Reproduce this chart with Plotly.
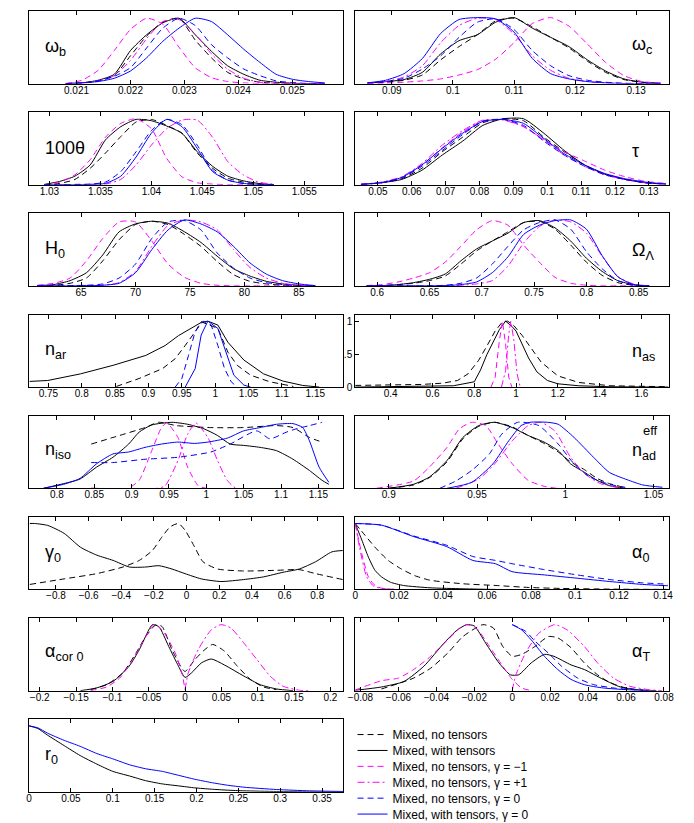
import plotly.graph_objects as go

W, H = 694, 823
FONT = "Liberation Sans, Arial, Helvetica, sans-serif"

# ---------------- data (normalised 1-D posteriors) ----------------
# Series keys: KD = Mixed, no tensors; KS = Mixed, with tensors;
# MD = Mixed, no tensors, gamma=-1; MDD = Mixed, no tensors, gamma=+1;
# BD = Mixed, no tensors, gamma=0; BS = Mixed, with tensors, gamma=0

# omega_b
WB_X = [0.0208, 0.0211, 0.0214, 0.0217, 0.0220, 0.0223, 0.0226, 0.0229, 0.0232,
        0.0235, 0.0238, 0.0241, 0.0244, 0.0247, 0.0250, 0.0253, 0.0256]
WB_KD = [0, 0.01, 0.04, 0.12, 0.42, 0.72, 0.93, 0.99, 0.66, 0.39, 0.17, 0.07, 0.02, 0.005, 0, 0, 0]
WB_KS = [0, 0.01, 0.05, 0.14, 0.5, 0.74, 0.92, 0.99, 0.74, 0.49, 0.27, 0.14, 0.05, 0.02, 0.005, 0, 0]
WB_MD = [0, 0.05, 0.2, 0.5, 0.82, 0.99, 0.9, 0.55, 0.24, 0.09, 0.03, 0.01, 0, 0, 0, 0, 0]
WB_MDD = [0, 0.01, 0.04, 0.12, 0.35, 0.68, 0.94, 0.97, 0.75, 0.45, 0.22, 0.08, 0.02, 0, 0, 0, 0]
WB_BD = [0, 0.005, 0.04, 0.11, 0.24, 0.54, 0.84, 0.99, 0.88, 0.59, 0.39, 0.22, 0.12, 0.04, 0.015, 0, 0]
WB_BS = [0, 0.01, 0.03, 0.08, 0.19, 0.39, 0.64, 0.84, 0.99, 0.94, 0.74, 0.52, 0.32, 0.14, 0.065, 0.03, 0.01]
WB_TICKS = [0.021, 0.022, 0.023, 0.024, 0.025]

# omega_c
WC_X = [0.086, 0.089, 0.092, 0.095, 0.098, 0.101, 0.104, 0.107, 0.110, 0.113, 0.116,
        0.119, 0.122, 0.125, 0.128, 0.131, 0.134]
WC_KD = [0.005, 0.02, 0.05, 0.13, 0.36, 0.56, 0.74, 0.95, 0.99, 0.86, 0.7, 0.54, 0.34, 0.17, 0.06, 0.02, 0]
WC_KS = [0.005, 0.03, 0.06, 0.17, 0.45, 0.65, 0.74, 0.93, 1.0, 0.84, 0.7, 0.56, 0.36, 0.19, 0.07, 0.02, 0.005]
WC_MD = [0, 0.005, 0.02, 0.04, 0.07, 0.13, 0.21, 0.37, 0.62, 0.91, 1.0, 0.87, 0.6, 0.32, 0.12, 0.03, 0.01]
WC_MDD = [0.005, 0.03, 0.1, 0.27, 0.62, 0.88, 0.99, 0.97, 0.75, 0.42, 0.2, 0.08, 0.03, 0.01, 0, 0, 0]
WC_BD = [0.005, 0.03, 0.08, 0.22, 0.42, 0.7, 0.93, 0.98, 0.82, 0.5, 0.27, 0.12, 0.05, 0.02, 0.005, 0, 0]
WC_BS = [0.01, 0.05, 0.15, 0.38, 0.76, 0.97, 1.0, 0.98, 0.78, 0.38, 0.15, 0.07, 0.03, 0.01, 0, 0, 0]
WC_TICKS = [0.09, 0.1, 0.11, 0.12, 0.13]

# 100 theta
TH_X = [1.0295, 1.031, 1.0325, 1.034, 1.0355, 1.037, 1.0385, 1.04, 1.0415, 1.043,
        1.0445, 1.046, 1.0475, 1.049, 1.0505, 1.052]
TH_KD = [0, 0.02, 0.08, 0.25, 0.48, 0.73, 0.95, 0.99, 0.9, 0.78, 0.48, 0.25, 0.1, 0.04, 0.01, 0]
TH_KS = [0.005, 0.05, 0.13, 0.3, 0.68, 0.88, 0.99, 0.97, 0.89, 0.78, 0.5, 0.28, 0.13, 0.06, 0.02, 0]
TH_MD = [0, 0.04, 0.15, 0.38, 0.72, 0.93, 1.0, 0.85, 0.4, 0.12, 0.03, 0.01, 0, 0, 0, 0]
TH_MDD = [0, 0, 0, 0.005, 0.01, 0.08, 0.3, 0.6, 0.85, 0.98, 0.98, 0.72, 0.35, 0.15, 0.04, 0.01]
TH_BD = [0, 0, 0.005, 0.01, 0.04, 0.2, 0.5, 0.82, 0.99, 0.91, 0.6, 0.22, 0.07, 0.02, 0.005, 0]
TH_BS = [0, 0, 0, 0.005, 0.02, 0.13, 0.42, 0.78, 0.99, 0.88, 0.55, 0.2, 0.07, 0.02, 0.005, 0]
TH_TICKS = [1.03, 1.035, 1.04, 1.045, 1.05, 1.055]

# tau
TAU_X = [0.045, 0.051, 0.057, 0.063, 0.069, 0.075, 0.081, 0.087, 0.093, 0.099, 0.105,
         0.111, 0.117, 0.123, 0.129, 0.135]
TAU_KD = [0.005, 0.03, 0.09, 0.25, 0.5, 0.72, 0.94, 1.0, 0.97, 0.72, 0.5, 0.3, 0.16, 0.08, 0.03, 0.01]
TAU_KS = [0.005, 0.03, 0.08, 0.22, 0.45, 0.66, 0.9, 1.0, 1.0, 0.78, 0.52, 0.3, 0.16, 0.08, 0.03, 0.01]
TAU_MD = [0.005, 0.03, 0.11, 0.3, 0.56, 0.8, 0.97, 0.99, 0.88, 0.68, 0.5, 0.36, 0.22, 0.12, 0.05, 0.02]
TAU_MDD = [0.005, 0.04, 0.12, 0.32, 0.6, 0.82, 0.98, 0.98, 0.88, 0.68, 0.45, 0.28, 0.15, 0.08, 0.03, 0.01]
TAU_BD = [0.005, 0.03, 0.1, 0.28, 0.52, 0.76, 0.96, 0.99, 0.9, 0.66, 0.45, 0.28, 0.15, 0.08, 0.03, 0.01]
TAU_BS = [0.005, 0.03, 0.11, 0.3, 0.55, 0.78, 0.96, 0.99, 0.93, 0.7, 0.47, 0.3, 0.17, 0.09, 0.04, 0.01]
TAU_TICKS = [0.05, 0.06, 0.07, 0.08, 0.09, 0.1, 0.11, 0.12, 0.13]

# H0
H0_X = [61, 62.5, 64, 65.5, 67, 68.5, 70, 71.5, 73, 74.5, 76, 77.5, 79, 80.5, 82, 83.5, 85, 86.5]
H0_KD = [0, 0.01, 0.04, 0.12, 0.38, 0.7, 0.93, 0.98, 0.93, 0.78, 0.6, 0.37, 0.17, 0.07, 0.03, 0.01, 0, 0]
H0_KS = [0.005, 0.02, 0.08, 0.2, 0.47, 0.82, 0.94, 0.98, 0.95, 0.82, 0.66, 0.45, 0.26, 0.15, 0.07, 0.03, 0.01, 0]
H0_MD = [0.01, 0.04, 0.12, 0.38, 0.72, 0.97, 0.97, 0.68, 0.33, 0.13, 0.04, 0.01, 0, 0, 0, 0, 0, 0]
H0_MDD = [0, 0, 0, 0, 0.01, 0.05, 0.22, 0.6, 0.92, 1.0, 0.97, 0.85, 0.55, 0.28, 0.12, 0.04, 0.01, 0]
H0_BD = [0, 0, 0.005, 0.01, 0.03, 0.12, 0.33, 0.72, 0.97, 0.99, 0.85, 0.5, 0.27, 0.12, 0.05, 0.02, 0, 0]
H0_BS = [0, 0, 0, 0.005, 0.01, 0.04, 0.2, 0.55, 0.85, 1.0, 0.94, 0.82, 0.6, 0.35, 0.18, 0.08, 0.03, 0.005]
H0_TICKS = [65, 70, 75, 80, 85]

# Omega_Lambda
OL_X = [0.59, 0.605, 0.62, 0.635, 0.65, 0.665, 0.68, 0.695, 0.71, 0.725, 0.74, 0.755,
        0.77, 0.785, 0.8, 0.815, 0.83, 0.845, 0.86]
OL_KD = [0, 0.005, 0.02, 0.04, 0.08, 0.15, 0.33, 0.53, 0.68, 0.82, 0.96, 0.98, 0.86, 0.62, 0.36, 0.16, 0.05, 0.01, 0]
OL_KS = [0, 0.005, 0.02, 0.05, 0.1, 0.18, 0.38, 0.56, 0.68, 0.8, 0.96, 0.99, 0.88, 0.68, 0.42, 0.22, 0.08, 0.02, 0]
OL_MD = [0.005, 0.02, 0.06, 0.12, 0.2, 0.36, 0.6, 0.85, 0.99, 0.92, 0.62, 0.36, 0.13, 0.04, 0.01, 0, 0, 0, 0]
OL_MDD = [0, 0, 0, 0, 0, 0, 0.01, 0.03, 0.08, 0.3, 0.65, 0.9, 1.0, 0.97, 0.8, 0.45, 0.14, 0.03, 0]
OL_BD = [0, 0, 0, 0, 0, 0.01, 0.04, 0.12, 0.33, 0.6, 0.85, 0.96, 1.0, 0.86, 0.52, 0.26, 0.08, 0.01, 0]
OL_BS = [0, 0, 0, 0, 0, 0.005, 0.02, 0.06, 0.2, 0.44, 0.78, 0.92, 0.99, 1.0, 0.86, 0.46, 0.14, 0.02, 0]
OL_TICKS = [0.6, 0.65, 0.7, 0.75, 0.8, 0.85]

# n_ar
NAR_KD_X = [0.852, 0.886, 0.921, 0.94, 0.955, 0.97, 0.979, 1.004, 1.019, 1.033, 1.053, 1.082, 1.117]
NAR_KD_Y = [0.01, 0.13, 0.28, 0.43, 0.63, 0.84, 0.99, 0.89, 0.53, 0.33, 0.18, 0.08, 0.01]
NAR_KS_X = [0.722, 0.749, 0.798, 0.847, 0.896, 0.925, 0.945, 0.965, 0.979, 0.989, 1.004,
            1.019, 1.043, 1.0725, 1.102, 1.131, 1.156]
NAR_KS_Y = [0.086, 0.1, 0.2, 0.33, 0.48, 0.63, 0.78, 0.89, 0.98, 1.0, 0.94, 0.68, 0.41, 0.2, 0.09, 0.025, 0]
NAR_BD_X = [0.94, 0.95, 0.96, 0.97, 0.982, 0.994, 1.004, 1.014, 1.024, 1.033]
NAR_BD_Y = [0, 0.13, 0.48, 0.84, 1.0, 0.94, 0.63, 0.28, 0.08, 0]
NAR_BS_X = [0.955, 0.97, 0.979, 0.989, 1.004, 1.014, 1.028, 1.043, 1.053]
NAR_BS_Y = [0, 0.28, 0.79, 1.0, 0.89, 0.58, 0.18, 0.03, 0]
NAR_TICKS = [0.75, 0.8, 0.85, 0.9, 0.95, 1, 1.05, 1.1, 1.15]

# n_as
NAS_KD_X = [0.23, 0.4, 0.55, 0.65, 0.72, 0.77, 0.82, 0.86, 0.9, 0.935, 0.96, 0.99, 1.03,
            1.07, 1.12, 1.2, 1.3, 1.45, 1.73]
NAS_KD_Y = [0.025, 0.03, 0.04, 0.06, 0.1, 0.2, 0.4, 0.62, 0.85, 0.99, 1.0, 0.93, 0.78,
            0.6, 0.38, 0.17, 0.07, 0.02, 0.005]
NAS_KS_X = [0.23, 0.5, 0.7, 0.8, 0.83, 0.86, 0.89, 0.92, 0.95, 0.98, 1.0, 1.03, 1.06,
            1.1, 1.15, 1.2, 1.3, 1.45, 1.73]
NAS_KS_Y = [0, 0.005, 0.02, 0.08, 0.26, 0.49, 0.69, 0.87, 1.0, 0.92, 0.85, 0.64, 0.44,
            0.23, 0.1, 0.05, 0.02, 0.005, 0]
NAS_MD_X = [0.88, 0.9, 0.92, 0.935, 0.95, 0.965, 0.98]
NAS_MD_Y = [0, 0.15, 0.7, 1.0, 0.65, 0.15, 0]
NAS_MDD_X = [0.93, 0.95, 0.965, 0.975, 0.99, 1.005, 1.02]
NAS_MDD_Y = [0, 0.25, 0.8, 1.0, 0.7, 0.2, 0]
NAS_TICKS = [0.4, 0.6, 0.8, 1, 1.2, 1.4, 1.6]
NAS_YTICKS = [0, 0.5, 1]
NAS_YTEXT = ["0", ".5", "1"]

# n_iso
NISO_KD_X = [0.846, 0.875, 0.918, 0.936, 0.96, 1.006, 1.05, 1.094, 1.116, 1.138, 1.155]
NISO_KD_Y = [0.67, 0.77, 0.92, 1.0, 0.95, 0.92, 0.92, 0.95, 0.92, 0.77, 0.7]
NISO_KS_X = [0.782, 0.809, 0.831, 0.853, 0.875, 0.896, 0.91, 0.927, 0.954, 0.975, 0.997,
             1.015, 1.032, 1.05, 1.072, 1.094, 1.116, 1.138, 1.155, 1.164]
NISO_KS_Y = [0, 0.07, 0.14, 0.32, 0.47, 0.67, 0.85, 0.96, 1.0, 0.97, 0.9, 0.8, 0.67,
             0.65, 0.62, 0.57, 0.44, 0.27, 0.12, 0.06]
NISO_MD_X = [0.846, 0.895, 0.91, 0.927, 0.94, 0.947, 0.962, 0.975, 0.989, 1.0, 1.155]
NISO_MD_Y = [0, 0, 0.12, 0.57, 0.92, 0.99, 0.77, 0.32, 0.04, 0, 0]
NISO_MDD_X = [0.846, 0.935, 0.945, 0.962, 0.975, 0.986, 1.002, 1.015, 1.028, 1.04, 1.155]
NISO_MDD_Y = [0, 0, 0.04, 0.42, 0.82, 0.99, 0.77, 0.42, 0.12, 0, 0]
NISO_BD_X = [0.846, 0.875, 0.918, 0.962, 1.006, 1.032, 1.0675, 1.085, 1.107, 1.12, 1.138, 1.155]
NISO_BD_Y = [0.39, 0.39, 0.44, 0.47, 0.55, 0.67, 0.87, 0.75, 0.85, 0.9, 0.95, 1.0]
NISO_BS_X = [0.782, 0.809, 0.831, 0.853, 0.875, 0.896, 0.918, 0.94, 0.962, 0.984, 1.002,
             1.028, 1.05, 1.072, 1.094, 1.116, 1.129, 1.138, 1.151, 1.164]
NISO_BS_Y = [0, 0.06, 0.15, 0.37, 0.52, 0.55, 0.62, 0.67, 0.7, 0.68, 0.7, 0.76, 0.87,
             0.92, 0.97, 0.98, 0.92, 0.72, 0.32, 0.09]
NISO_TICKS = [0.8, 0.85, 0.9, 0.95, 1, 1.05, 1.1, 1.15]

# n_ad^eff
NAD_K_X = [0.9, 0.914, 0.923, 0.933, 0.942, 0.951, 0.96, 0.97, 0.979, 0.988, 0.996,
           1.003, 1.011, 1.018, 1.025, 1.034]
NAD_KD_Y = [0, 0.05, 0.16, 0.4, 0.75, 0.94, 1.0, 0.93, 0.8, 0.68, 0.55, 0.4, 0.28, 0.15, 0.07, 0.01]
NAD_KS_Y = [0, 0.06, 0.17, 0.42, 0.77, 0.95, 1.0, 0.92, 0.8, 0.7, 0.57, 0.37, 0.24, 0.12, 0.04, 0]
NAD_MD_X = [0.893, 0.914, 0.923, 0.933, 0.94, 0.947, 0.955, 0.962, 0.97, 0.979, 0.988, 0.995]
NAD_MD_Y = [0, 0.11, 0.32, 0.62, 0.9, 1.0, 0.95, 0.67, 0.37, 0.12, 0.03, 0]
NAD_MDD_X = [0.938, 0.951, 0.96, 0.97, 0.979, 0.986, 0.994, 1.003, 1.011, 1.02, 1.03]
NAD_MDD_Y = [0, 0.14, 0.37, 0.72, 0.95, 1.0, 0.87, 0.47, 0.22, 0.07, 0.01]
NAD_BD_X = [0.929, 0.938, 0.947, 0.957, 0.964, 0.973, 0.985, 0.996, 1.005, 1.014, 1.025, 1.034]
NAD_BD_Y = [0, 0.11, 0.27, 0.52, 0.82, 1.0, 0.95, 0.67, 0.37, 0.17, 0.06, 0.015]
NAD_BS_X = [0.933, 0.947, 0.959, 0.968, 0.975, 0.98, 0.99, 0.996, 1.005, 1.016, 1.025,
            1.035, 1.044, 1.055]
NAD_BS_Y = [0, 0.09, 0.37, 0.72, 0.95, 1.0, 1.0, 0.97, 0.77, 0.47, 0.24, 0.13, 0.05, 0.015]
NAD_TICKS = [0.9, 0.95, 1, 1.05]

# gamma_0
G0_KD_X = [-0.96, -0.75, -0.55, -0.39, -0.29, -0.21, -0.15, -0.1, -0.05, -0.01, 0.05,
           0.1, 0.19, 0.35, 0.55, 0.69, 0.79, 0.956]
G0_KD_Y = [0.076, 0.16, 0.24, 0.34, 0.44, 0.59, 0.8, 0.95, 1.0, 0.9, 0.64, 0.42, 0.31,
           0.28, 0.29, 0.3, 0.24, 0.15]
G0_KS_X = [-0.96, -0.93, -0.85, -0.75, -0.65, -0.55, -0.45, -0.35, -0.25, -0.17, -0.09,
           -0.01, 0.09, 0.21, 0.35, 0.47, 0.59, 0.69, 0.79, 0.89, 0.956]
G0_KS_Y = [1.0, 1.0, 0.97, 0.85, 0.64, 0.52, 0.44, 0.34, 0.34, 0.36, 0.31, 0.24, 0.16,
           0.12, 0.15, 0.19, 0.26, 0.31, 0.42, 0.57, 0.59]
G0_TICKS = [-0.8, -0.6, -0.4, -0.2, 0, 0.2, 0.4, 0.6, 0.8]

# alpha_0
A0_B_X = [0, 0.0119, 0.0267, 0.0416, 0.0535, 0.0638, 0.0713, 0.0861, 0.101, 0.1158, 0.1307, 0.1422]
A0_BS_Y = [1.0, 0.975, 0.8, 0.65, 0.44, 0.39, 0.27, 0.22, 0.17, 0.12, 0.076, 0.056]
A0_BD_Y = [1.0, 0.975, 0.81, 0.67, 0.5, 0.44, 0.39, 0.3, 0.22, 0.15, 0.1, 0.08]
A0_KD_X = [0, 0.0045, 0.009, 0.015, 0.021, 0.027, 0.034, 0.049, 0.064, 0.079, 0.094, 0.116, 0.1422]
A0_KD_Y = [1.0, 0.82, 0.64, 0.44, 0.31, 0.21, 0.14, 0.086, 0.06, 0.03, 0.015, 0.005, 0]
A0_KS_X = [0, 0.003, 0.006, 0.009, 0.012, 0.016, 0.022, 0.034, 0.049, 0.064, 0.1422]
A0_KS_Y = [1.0, 0.75, 0.49, 0.29, 0.19, 0.11, 0.06, 0.025, 0.01, 0, 0]
A0_MD_X = [0, 0.003, 0.006, 0.009, 0.012, 0.019, 0.03]
A0_MD_Y = [1.0, 0.54, 0.19, 0.06, 0.02, 0, 0]
A0_MDD_X = [0, 0.0022, 0.0052, 0.0082, 0.012, 0.019, 0.03]
A0_MDD_Y = [1.0, 0.6, 0.19, 0.055, 0.015, 0, 0]
A0_TICKS = [0, 0.02, 0.04, 0.06, 0.08, 0.1, 0.12, 0.14]

# alpha_cor0
AC_KD_X = [-0.13, -0.108, -0.0855, -0.0675, -0.054, -0.04, -0.0315, -0.018, -0.0045, 0,
           0.0135, 0.027, 0.038, 0.054, 0.072, 0.09, 0.108, 0.126]
AC_KD_Y = [0.015, 0.09, 0.27, 0.57, 0.82, 1.0, 0.97, 0.62, 0.34, 0.29, 0.47, 0.62, 0.7,
           0.6, 0.37, 0.17, 0.055, 0.015]
AC_KS_X = [-0.144, -0.122, -0.099, -0.077, -0.063, -0.05, -0.045, -0.036, -0.0225, -0.009,
           0, 0.009, 0.0225, 0.036, 0.054, 0.081, 0.1035, 0.126, 0.1485]
AC_KS_Y = [0, 0.04, 0.14, 0.37, 0.62, 0.92, 1.0, 0.97, 0.67, 0.37, 0.2, 0.27, 0.42, 0.48,
           0.39, 0.22, 0.09, 0.025, 0]
AC_MD_X = [-0.13, -0.108, -0.09, -0.072, -0.054, -0.043, -0.0315, -0.0135, -0.0045, 0]
AC_MD_Y = [0, 0.055, 0.19, 0.47, 0.82, 1.0, 0.92, 0.57, 0.27, 0.015]
AC_MDD_X = [0, 0.0045, 0.018, 0.036, 0.0495, 0.063, 0.081, 0.099, 0.117, 0.135, 0.1575, 0.17]
AC_MDD_Y = [0.015, 0.27, 0.62, 0.92, 1.0, 0.95, 0.72, 0.47, 0.22, 0.066, 0.005, 0]
AC_TICKS = [-0.2, -0.15, -0.1, -0.05, 0, 0.05, 0.1, 0.15, 0.2]

# alpha_T
AT_KD_X = [-0.069, -0.052, -0.043, -0.034, -0.026, -0.0155, -0.01, -0.005, 0, 0.005, 0.012,
           0.019, 0.024, 0.031, 0.038, 0.045, 0.0517, 0.06, 0.069]
AT_KD_Y = [0.025, 0.19, 0.34, 0.57, 0.82, 1.0, 0.95, 0.67, 0.52, 0.55, 0.67, 0.82, 0.8,
           0.65, 0.42, 0.24, 0.12, 0.04, 0.005]
AT_KS_X = [-0.0828, -0.069, -0.057, -0.0466, -0.036, -0.029, -0.024, -0.02, -0.014, -0.007,
           -0.001, 0.0034, 0.01, 0.017, 0.022, 0.031, 0.038, 0.048, 0.057, 0.0655, 0.076]
AT_KS_Y = [0.005, 0.055, 0.14, 0.37, 0.72, 0.92, 1.0, 0.98, 0.72, 0.42, 0.24, 0.24, 0.42,
           0.55, 0.52, 0.39, 0.32, 0.17, 0.055, 0.015, 0]
AT_MD_X = [-0.0828, -0.069, -0.06, -0.052, -0.043, -0.034, -0.0276, -0.024, -0.019, -0.012,
           -0.005, 0, 0.005, 0.01]
AT_MD_Y = [0.01, 0.15, 0.19, 0.32, 0.52, 0.77, 0.95, 1.0, 0.95, 0.67, 0.37, 0.17, 0.04, 0]
AT_MDD_X = [0, 0.0017, 0.007, 0.014, 0.0224, 0.029, 0.038, 0.045, 0.0534, 0.062, 0.072, 0.079]
AT_MDD_Y = [0, 0.22, 0.57, 0.87, 1.0, 0.92, 0.67, 0.42, 0.19, 0.066, 0.015, 0]
AT_BD_X = [0, 0.007, 0.012, 0.019, 0.026, 0.0345, 0.043, 0.055, 0.069]
AT_BD_Y = [1.0, 0.9, 0.75, 0.57, 0.37, 0.19, 0.09, 0.035, 0.005]
AT_BS_X = [0, 0.005, 0.01, 0.017, 0.024, 0.031, 0.038, 0.048, 0.06, 0.072]
AT_BS_Y = [1.0, 0.92, 0.77, 0.52, 0.32, 0.17, 0.09, 0.04, 0.015, 0]
AT_TICKS = [-0.08, -0.06, -0.04, -0.02, 0, 0.02, 0.04, 0.06, 0.08]

# r_0
R0_X = [0, 0.0105, 0.022, 0.042, 0.061, 0.081, 0.1, 0.12, 0.139, 0.159, 0.1785, 0.198,
        0.2176, 0.237, 0.2566, 0.2957, 0.3348, 0.375]
R0_KS = [1.0, 0.96, 0.86, 0.7, 0.55, 0.42, 0.31, 0.24, 0.17, 0.12, 0.09, 0.06, 0.04,
         0.025, 0.015, 0.005, 0, 0]
R0_BS = [1.0, 0.97, 0.89, 0.78, 0.69, 0.58, 0.5, 0.41, 0.35, 0.31, 0.25, 0.19, 0.14,
         0.1, 0.07, 0.035, 0.015, 0.005]
R0_TICKS = [0, 0.05, 0.1, 0.15, 0.2, 0.25, 0.3, 0.35]

# ---------------- styles ----------------
DASH = "6px,4px"
DASHDOT = "7px,3px,2px,3px"
STYLE = {
    "KD": dict(color="#000000", dash=DASH, name="Mixed, no tensors"),
    "KS": dict(color="#000000", dash="solid", name="Mixed, with tensors"),
    "MD": dict(color="#ff00ff", dash=DASH, name="Mixed, no tensors, \u03b3 = \u22121"),
    "MDD": dict(color="#ff00ff", dash=DASHDOT, name="Mixed, no tensors, \u03b3 = +1"),
    "BD": dict(color="#0000ff", dash=DASH, name="Mixed, no tensors, \u03b3 = 0"),
    "BS": dict(color="#0000ff", dash="solid", name="Mixed, with tensors, \u03b3 = 0"),
}
LEGEND_ORDER = ["KD", "KS", "MD", "MDD", "BD", "BS"]

PANELS = [
    dict(row=0, col=0, label="\u03c9<sub>b</sub>", ly=0.5, xr=[0.02012, 0.02594], ticks=WB_TICKS,
         curves=[("KD", WB_X, WB_KD), ("KS", WB_X, WB_KS), ("MD", WB_X, WB_MD),
                 ("MDD", WB_X, WB_MDD), ("BD", WB_X, WB_BD), ("BS", WB_X, WB_BS)]),
    dict(row=0, col=1, label="\u03c9<sub>c</sub>", ly=0.52, xr=[0.084, 0.1353], ticks=WC_TICKS,
         curves=[("KD", WC_X, WC_KD), ("KS", WC_X, WC_KS), ("MD", WC_X, WC_MD),
                 ("MDD", WC_X, WC_MDD), ("BD", WC_X, WC_BD), ("BS", WC_X, WC_BS)]),
    dict(row=1, col=0, label="100\u03b8", ly=0.5, xr=[1.028, 1.0588], ticks=TH_TICKS,
         curves=[("KD", TH_X, TH_KD), ("KS", TH_X, TH_KS), ("MD", TH_X, TH_MD),
                 ("MDD", TH_X, TH_MDD), ("BD", TH_X, TH_BD), ("BS", TH_X, TH_BS)]),
    dict(row=1, col=1, label="\u03c4", ly=0.47, xr=[0.0433, 0.1358], ticks=TAU_TICKS,
         curves=[("KD", TAU_X, TAU_KD), ("KS", TAU_X, TAU_KS), ("MD", TAU_X, TAU_MD),
                 ("MDD", TAU_X, TAU_MDD), ("BD", TAU_X, TAU_BD), ("BS", TAU_X, TAU_BS)]),
    dict(row=2, col=0, label="H<sub>0</sub>", ly=0.5, xr=[60.23, 89.05], ticks=H0_TICKS,
         curves=[("KD", H0_X, H0_KD), ("KS", H0_X, H0_KS), ("MD", H0_X, H0_MD),
                 ("MDD", H0_X, H0_MDD), ("BD", H0_X, H0_BD), ("BS", H0_X, H0_BS)]),
    dict(row=2, col=1, label="\u03a9<sub>\u039b</sub>", ly=0.47, xr=[0.579, 0.8785], ticks=OL_TICKS,
         curves=[("KD", OL_X, OL_KD), ("KS", OL_X, OL_KS), ("MD", OL_X, OL_MD),
                 ("MDD", OL_X, OL_MDD), ("BD", OL_X, OL_BD), ("BS", OL_X, OL_BS)]),
    dict(row=3, col=0, label="n<sub>ar</sub>", ly=0.5, xr=[0.721, 1.1916], ticks=NAR_TICKS, linear=True,
         curves=[("KD", NAR_KD_X, NAR_KD_Y), ("KS", NAR_KS_X, NAR_KS_Y),
                 ("BD", NAR_BD_X, NAR_BD_Y), ("BS", NAR_BS_X, NAR_BS_Y)]),
    dict(row=3, col=1, label="n<sub>as</sub>", ly=0.47, xr=[0.23, 1.73], ticks=NAS_TICKS, linear=True,
         yticks=(NAS_YTICKS, NAS_YTEXT),
         curves=[("KD", NAS_KD_X, NAS_KD_Y), ("KS", NAS_KS_X, NAS_KS_Y),
                 ("MD", NAS_MD_X, NAS_MD_Y), ("MDD", NAS_MDD_X, NAS_MDD_Y)]),
    dict(row=4, col=0, label="n<sub>iso</sub>", ly=0.52, xr=[0.7627, 1.183], ticks=NISO_TICKS,
         curves=[("KD", NISO_KD_X, NISO_KD_Y), ("KS", NISO_KS_X, NISO_KS_Y),
                 ("MD", NISO_MD_X, NISO_MD_Y), ("MDD", NISO_MDD_X, NISO_MDD_Y),
                 ("BD", NISO_BD_X, NISO_BD_Y), ("BS", NISO_BS_X, NISO_BS_Y)]),
    dict(row=4, col=1, label="n<sub>ad</sub>", ly=0.5, sup="eff", xr=[0.881, 1.0585], ticks=NAD_TICKS,
         curves=[("KD", NAD_K_X, NAD_KD_Y), ("KS", NAD_K_X, NAD_KS_Y),
                 ("MD", NAD_MD_X, NAD_MD_Y), ("MDD", NAD_MDD_X, NAD_MDD_Y),
                 ("BD", NAD_BD_X, NAD_BD_Y), ("BS", NAD_BS_X, NAD_BS_Y)]),
    dict(row=5, col=0, label="\u03b3<sub>0</sub>", ly=0.5, xr=[-0.965, 0.958], ticks=G0_TICKS,
         curves=[("KD", G0_KD_X, G0_KD_Y), ("KS", G0_KS_X, G0_KS_Y)]),
    dict(row=5, col=1, label="\u03b1<sub>0</sub>", ly=0.5, xr=[0, 0.1425], ticks=A0_TICKS,
         curves=[("KD", A0_KD_X, A0_KD_Y), ("KS", A0_KS_X, A0_KS_Y),
                 ("MD", A0_MD_X, A0_MD_Y), ("MDD", A0_MDD_X, A0_MDD_Y),
                 ("BD", A0_B_X, A0_BD_Y), ("BS", A0_B_X, A0_BS_Y)]),
    dict(row=6, col=0, label="\u03b1<sub>cor 0</sub>", ly=0.53, xr=[-0.2147, 0.2174], ticks=AC_TICKS,
         curves=[("KD", AC_KD_X, AC_KD_Y), ("KS", AC_KS_X, AC_KS_Y),
                 ("MD", AC_MD_X, AC_MD_Y), ("MDD", AC_MDD_X, AC_MDD_Y)]),
    dict(row=6, col=1, label="\u03b1<sub>T</sub>", ly=0.53, xr=[-0.0828, 0.0824], ticks=AT_TICKS,
         curves=[("KD", AT_KD_X, AT_KD_Y), ("KS", AT_KS_X, AT_KS_Y),
                 ("MD", AT_MD_X, AT_MD_Y), ("MDD", AT_MDD_X, AT_MDD_Y),
                 ("BD", AT_BD_X, AT_BD_Y), ("BS", AT_BS_X, AT_BS_Y)]),
    dict(row=7, col=0, label="r<sub>0</sub>", ly=0.5, xr=[0, 0.375], ticks=R0_TICKS,
         curves=[("KS", R0_X, R0_KS), ("BS", R0_X, R0_BS)]),
]

# ---------------- layout geometry (pixels) ----------------
COL_X = [(14.3, 334.3), (346.7, 666.0)]
ROW_TOP0, ROW_STEP, PANEL_H = 3.0, 101.8, 73.0
LABEL_X = [0.045, 0.878]
LEGEND_X_PX = 344
LEGEND_Y0_PX, LEGEND_DY_PX = 731, 16


def fmt_tick(v):
    s = f"{v:g}"
    return s.replace("-", "\u2212")


def legend_id(i):
    return "legend" if i == 0 else f"legend{i + 1}"


fig = go.Figure()
layout = {}
annotations = []

for k, p in enumerate(PANELS, start=1):
    sfx = "" if k == 1 else str(k)
    x0, x1 = COL_X[p["col"]]
    top = ROW_TOP0 + ROW_STEP * p["row"]
    ydom = [1 - (top + PANEL_H) / H, 1 - top / H]
    xdom = [x0 / W, x1 / W]
    shape = "linear" if p.get("linear") else "spline"
    for key, xs, ys in p["curves"]:
        st = STYLE[key]
        fig.add_trace(go.Scatter(
            x=xs, y=ys, mode="lines", name=st["name"],
            line=dict(color=st["color"], width=1, dash=st["dash"], shape=shape,
                      smoothing=0.6 if shape == "spline" else None),
            xaxis="x" + sfx, yaxis="y" + sfx, showlegend=(k == 1),
            legend=legend_id(LEGEND_ORDER.index(key)), hoverinfo="skip"))
    layout["xaxis" + sfx] = dict(
        domain=xdom, range=p["xr"], anchor="y" + sfx,
        tickmode="array", tickvals=p["ticks"], ticktext=[fmt_tick(v) for v in p["ticks"]],
        ticks="inside", ticklen=4, tickwidth=1, tickcolor="black",
        showline=True, linecolor="black", linewidth=1, mirror="ticks",
        showgrid=False, zeroline=False, ticklabelstandoff=-3,
        tickfont=dict(size=10, color="black", family=FONT))
    ya = dict(domain=ydom, range=[0, 1.1], anchor="x" + sfx,
              showline=True, linecolor="black", linewidth=1, mirror=True,
              showgrid=False, zeroline=False)
    if "yticks" in p:
        vals, txt = p["yticks"]
        ya.update(tickmode="array", tickvals=vals, ticktext=txt, ticks="inside",
                  ticklen=4, tickwidth=1, tickcolor="black",
                  tickfont=dict(size=10, color="black", family=FONT))
    else:
        ya.update(showticklabels=False, ticks="")
    layout["yaxis" + sfx] = ya
    xref = "x" + sfx + " domain"
    yref = "y" + sfx + " domain"
    annotations.append(dict(
        text=p["label"], x=LABEL_X[p["col"]], y=p["ly"], xref=xref, yref=yref,
        xanchor="left", yanchor="middle", showarrow=False,
        font=dict(size=18, color="black", family=FONT)))
    if "sup" in p:
        annotations.append(dict(
            text=p["sup"], x=LABEL_X[p["col"]] + 0.035, y=p["ly"] + 0.3, xref=xref, yref=yref,
            xanchor="left", yanchor="middle", showarrow=False,
            font=dict(size=13, color="black", family=FONT)))

# one single-entry legend per series so the rows can sit 16 px apart, as in the figure
for i in range(len(LEGEND_ORDER)):
    layout[legend_id(i)] = dict(
        x=LEGEND_X_PX / W, y=1 - (LEGEND_Y0_PX + LEGEND_DY_PX * i) / H,
        xanchor="left", yanchor="middle",
        font=dict(size=12, color="black", family=FONT),
        bgcolor="rgba(0,0,0,0)", borderwidth=0, itemwidth=30)

fig.update_layout(**layout)
fig.update_layout(
    width=W, height=H, margin=dict(l=0, r=0, t=0, b=0),
    paper_bgcolor="white", plot_bgcolor="white",
    annotations=annotations, showlegend=True,
)

fig.write_html("out.html")
